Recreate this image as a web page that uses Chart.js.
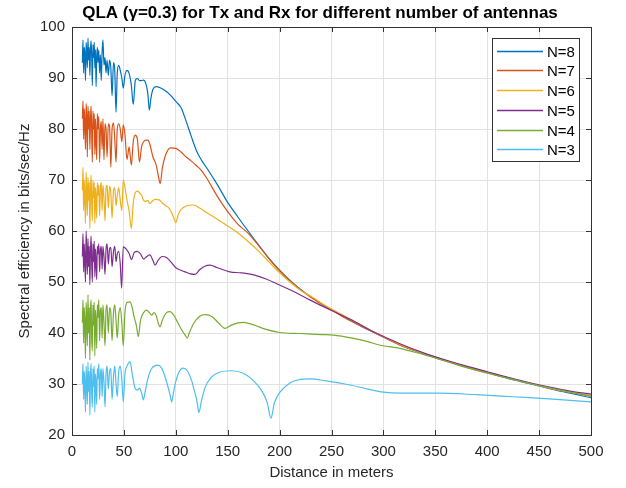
<!DOCTYPE html>
<html>
<head>
<meta charset="utf-8">
<script src="https://cdn.jsdelivr.net/npm/chart.js@4.4.0/dist/chart.umd.min.js"></script>
<style>
  html, body { margin: 0; padding: 0; background: #fff; }
  canvas { display: block; }
</style>
</head>
<body>
<canvas id="myChart" width="626" height="488"></canvas>
<script>
const ctx = document.getElementById("myChart");
const fontFamily = "'Liberation Sans', Arial, Helvetica, sans-serif";

const seriesNames = ["N=8", "N=7", "N=6", "N=5", "N=4", "N=3"];
const seriesColors = ["#0072BD", "#D95319", "#EDB120", "#7E2F8E", "#77AC30", "#4DBEEE"];

// distance (m) / spectral efficiency (bits/sec/Hz) per antenna count
const dist8 = [10,10.6,11.2,11.8,12.4,13,13.6,14.2,14.8,15.4,16,16.6,17.2,17.8,18.4,19,19.6,20.2,20.8,21.4,22,22.6,23.2,23.8,24.4,25,
  25.8,26.6,27.4,28.2,29,29.8,30.8,31.8,32.8,33.8,35,36.2,37.4,38.6,40,41.2,42.4,43.6,45,46.5,48,49.4,
  51,53,55,57.2,59,61,63,65,67,69,71,73,74.5,76,78,81,85,90,95,
  100,105,110,115,120,125,130,140,150,160,170,180,190,200,210,220,230,240,250,260,270,280,290,300,
  320,340,360,380,400,420,440,460,480,500];
const se8 = [93,97.5,91,96,94.5,89.5,97,95,92,97.8,93.5,96,90.5,95.5,97.3,94,88.5,96.5,94,97,92,95.5,88.3,94,96,93,
  95.5,91,94.5,89.5,95,97.5,92.5,94,91,93.5,90.5,93.5,92,86.5,93,91.5,83.3,91,92.5,91.5,90,88,
  90.5,91.5,90.9,88.5,84.8,89.5,89.9,89.5,89.5,89.6,89,87,83.7,86,87.8,88.3,88.1,87.5,86.6,
  85.4,84.2,81.5,78.5,75.7,73.8,72.3,69.1,65.6,62.7,59.9,57.2,54.6,52.3,50.3,48.6,47.1,45.8,44.6,43.4,42.3,41.2,40.2,39.2,
  37.3,35.8,34.5,33.3,32.2,31.1,30.1,29.1,28.2,27.3];

const dist7 = [10,10.6,11.2,11.8,12.4,13,13.6,14.2,14.8,15.4,16,16.6,17.2,17.8,18.4,19,19.6,20.2,20.8,21.4,22,22.6,23.2,23.8,24.4,25,
  25.8,26.6,27.4,28.2,29,29.8,30.8,31.8,32.8,33.8,35,36.2,37.4,38.6,40,41.2,42.4,43.6,45,46.5,48,49.4,
  51,53,55,57.2,59,61,63,65,67,69,71,73,75,78,81,83,85,87,90,95,
  100,105,110,115,120,125,130,140,150,160,170,180,190,200,210,220,230,240,250,260,270,280,290,300,
  320,340,360,380,400,420,440,460,480,500];
const se7 = [82,85.5,78,84,81,76,85,82.5,74.5,84.5,80,83.5,76,82,84.5,79,73.5,83.5,80,83,75,82,78,74,83,80,
  82.5,73.5,80,81.5,76,82,74,81,80,74.5,81,80.5,72.5,80,81.2,78,73.5,80,81,80,77.5,80.8,
  79,74,76.5,72.9,77.5,78.8,78,73.5,76.5,77.5,77.8,77.8,77,74.5,73,71,69.3,72.3,74.8,76.3,
  76.2,75.5,74.5,73.7,72.8,71.8,70.3,66.8,63.8,61.3,59.5,57.1,54.5,52.2,50.2,48.5,47.0,45.7,44.5,43.3,42.2,41.2,40.2,39.2,
  37.3,35.9,34.6,33.4,32.3,31.2,30.2,29.2,28.4,27.6];

const dist6 = [10,10.6,11.2,11.8,12.4,13,13.6,14.2,14.8,15.4,16,16.6,17.2,17.8,18.4,19,19.6,20.2,20.8,21.4,22,22.6,23.2,23.8,24.4,25,
  25.8,26.6,27.4,28.2,29,29.8,30.8,31.8,32.8,33.8,35,36.2,37.4,38.6,40,41.2,42.4,43.6,45,46.5,48,49.4,
  51,53,55,57.2,59,61,63,65,67,69,71,73,75,78,81,84,87,90,93,96,98,100,102,105,110,117,123,130,
  140,150,160,170,180,190,200,210,220,230,240,250,260,270,280,290,300,
  320,340,360,380,400,420,440,460,480,500];
const se6 = [68,72.5,64,70,66.5,61.5,71.5,68,63,70.5,66,69.5,60.5,68,71,65,62,70,66.5,69.5,61.5,68.5,66,62.5,69.5,67,
  69,63,68.5,69.5,64,69,66.5,62,68.5,69,64.5,68.8,67.5,62.5,68,68.5,65,67,68.5,66,64,70,
  68.5,66,64,60.5,65.5,67.5,67.8,67.5,67,66,65.8,66,65.4,66,66.2,66.1,65.5,65,64.6,63.6,62.6,61.6,63,64.2,64.9,65.1,64.5,63.6,
  62.3,61.0,59.6,57.9,56.0,53.9,51.8,50.0,48.4,47.2,45.9,44.7,43.6,42.5,41.4,40.3,39.3,
  37.4,35.9,34.6,33.4,32.3,31.2,30.2,29.2,28.4,27.8];

const dist5 = [10,10.6,11.2,11.8,12.4,13,13.6,14.2,14.8,15.4,16,16.6,17.2,17.8,18.4,19,19.6,20.2,20.8,21.4,22,22.6,23.2,23.8,24.4,25,
  25.8,26.6,27.4,28.2,29,29.8,30.8,31.8,32.8,33.8,35,36.2,37.4,38.6,40,41.2,42.4,43.6,45,46.5,47.8,49.4,
  52,55,57.4,60,63,66,69,72,75,78,80,83,87,91,95,100,105,110,114,118.5,123,128,133,140,152,163,175,187,200,215,229,250,268,290,316,
  340,360,380,400,420,440,460,480,500];
const se5 = [55,59.5,52,57.5,54,50,60,56,51.5,58.5,53,57,49.5,56,59,53.5,50,57.5,54,58,51,56.5,54,50.5,57,55.5,
  57.5,52,56.5,57,52.5,57,55,51.5,56.5,57.5,53.5,56.5,56.8,53,56,57,54,55.5,56,53.5,48.8,56.9,
  56.5,55.6,54.4,55.8,56,55.5,54.5,55,55.3,54.2,53.3,54.3,55,54.8,54,52.8,52.3,51.9,51.6,51.5,52.4,53.1,53.3,52.8,52,51.8,51.4,50.6,49.4,48,46.5,44.4,42.7,40.3,37.9,
  36.0,34.7,33.5,32.4,31.3,30.3,29.4,28.6,28.0];

const dist4 = [10,10.6,11.2,11.8,12.4,13,13.6,14.2,14.8,15.4,16,16.6,17.2,17.8,18.4,19,19.6,20.2,20.8,21.4,22,22.6,23.2,23.8,24.4,25,
  25.8,26.6,27.4,28.2,29,29.8,30.8,31.8,32.8,33.8,35,36.2,37.4,38.6,40,41.2,42.4,43.6,45,46.5,48,49.4,
  51,53,55.9,58,60,62,63.9,66,69,72,74.5,76.8,79,81,83,84.8,87,91,94.4,98,102,106,109,111,113,117,123,129,135,141,147.4,153,160,165,175,187,200,220,240,252,270,285,297,316,329,
  350,375,400,425,450,475,500];
const se4 = [42,46.5,38,45,41.5,35,46,43,37.5,47.5,40,45,34.7,44,46.5,39,36.5,45.5,41.5,46,35.5,44.5,42,37,45.5,43,
  46.5,38.5,44.5,45,39,45.5,42,37.5,44.5,45.5,40,45,44,38.5,44,45.5,42.5,39,43.5,45,42,37.5,
  44,46,46.1,45,43,41.5,39.3,42.5,44,44.5,44,43.5,44,43.5,42,41.2,42.5,44,44.2,43.5,42,40.5,39.6,39,40,41.8,43.3,43.6,43.2,42,40.9,41.5,42,42.1,41.6,40.7,40.1,39.9,39.7,39.6,39,38.3,37.6,37,36.3,
  35.1,33.5,32.1,30.9,29.7,28.6,27.6];

const dist3 = [10,10.6,11.2,11.8,12.4,13,13.6,14.2,14.8,15.4,16,16.6,17.2,17.8,18.4,19,19.6,20.2,20.8,21.4,22,22.6,23.2,23.8,24.4,25,
  25.8,26.6,27.4,28.2,29,29.8,30.8,31.8,32.8,33.8,35,36.2,37.4,38.6,40,41.2,42.4,43.6,45,46.5,48,49.4,
  51,53,55.9,58,60.7,63,65,67,68.7,70.5,73,76,80,83,86,89,92,94.5,96,97.5,100,103,107,111,115,118,120.5,122.3,124.5,128,134,142,153.8,165,175,183,188,191.7,195,200,210,220,229.3,245,268,285,300,316,351,390,425,460,500];
const se3 = [30,34,27,32.5,29.5,24.5,33.5,30.5,26,34.3,28.5,32.5,23.9,31.5,34,28,25.5,33,29.5,33.5,24.5,32,30,26,33,31,
  34,27,32,33,27.5,33,30.5,25.5,32,33.5,29,32.5,33,27,31.5,33.5,30,27.5,32.5,33.5,31,26.5,
  32,33.5,34.4,32,29.2,28.8,29.2,28.3,26.9,28.5,31,32.8,33.6,33.7,33.2,31.8,29.8,27.8,26.5,28,30.5,32.3,33.1,32.6,30.8,28.6,26.5,24.4,26.5,29.2,31.3,32.3,32.6,32.1,30.6,28.6,26.4,23.3,26.3,28.3,30.2,30.9,31,30.6,29.8,29,28.4,28.2,28.2,27.9,27.5,27.1,26.5];

const xTicks = { min: 0, max: 500, step: 50 };
const yTicks = { min: 20, max: 100, step: 10 };

const distances = [dist8, dist7, dist6, dist5, dist4, dist3];
const efficiencies = [se8, se7, se6, se5, se4, se3];

const datasets = seriesNames.map((name, i) => ({
  label: name,
  data: distances[i].map((d, j) => ({ x: d, y: efficiencies[i][j] })),
  borderColor: seriesColors[i],
  backgroundColor: seriesColors[i],
  borderWidth: 1.2,
  pointRadius: 0,
  cubicInterpolationMode: "monotone",
  order: seriesNames.length - i,
}));

const titlePlugin = {
  id: "plotTitle",
  afterDraw(chart) {
    const c = chart.ctx;
    c.save();
    c.fillStyle = "#000";
    c.font = "bold 17px " + fontFamily;
    c.textAlign = "center";
    c.textBaseline = "middle";
    c.fillText("QLA (γ=0.3) for Tx and Rx for different number of antennas", 320, 13);
    c.restore();
  },
};

// box around the axes plus inward tick marks on all four sides
const axesBox = {
  id: "axesBox",
  afterDatasetsDraw(chart) {
    const { ctx: c, chartArea: a, scales: { x, y } } = chart;
    c.save();
    c.strokeStyle = "#333";
    c.lineWidth = 1;
    c.beginPath();
    x.ticks.forEach((t) => {
      const px = Math.round(x.getPixelForValue(t.value)) + 0.5;
      c.moveTo(px, a.bottom); c.lineTo(px, a.bottom - 5);
      c.moveTo(px, a.top); c.lineTo(px, a.top + 5);
    });
    y.ticks.forEach((t) => {
      const py = Math.round(y.getPixelForValue(t.value)) + 0.5;
      c.moveTo(a.left, py); c.lineTo(a.left + 5, py);
      c.moveTo(a.right, py); c.lineTo(a.right - 5, py);
    });
    c.stroke();
    c.strokeRect(Math.round(a.left) + 0.5, Math.round(a.top) + 0.5, Math.round(a.right - a.left), Math.round(a.bottom - a.top));
    c.restore();
  },
};

const legendBox = {
  id: "legendBox",
  afterDraw(chart) {
    const { ctx: c, chartArea: a } = chart;
    const bx = a.right - 99, by = a.top + 11, bw = 87, bh = 123;
    c.save();
    c.fillStyle = "#fff";
    c.fillRect(bx, by, bw, bh);
    c.strokeStyle = "#333";
    c.lineWidth = 1;
    c.strokeRect(bx + 0.5, by + 0.5, bw, bh);
    c.font = "15px " + fontFamily;
    c.textBaseline = "middle";
    c.textAlign = "left";
    chart.data.datasets.forEach((ds, i) => {
      const ry = Math.round(by + 12.7 + i * 19.7) + 0.5;
      c.strokeStyle = ds.borderColor;
      c.lineWidth = 1.5;
      c.beginPath();
      c.moveTo(bx + 5, ry);
      c.lineTo(bx + 51, ry);
      c.stroke();
      c.fillStyle = "#000";
      c.fillText(ds.label, bx + 55, ry + 1);
    });
    c.restore();
  },
};

new Chart(ctx, {
  type: "line",
  data: { datasets },
  options: {
    responsive: false,
    animation: false,
    layout: { padding: { top: 27, right: 35, left: 0, bottom: 0 } },
    plugins: {
      legend: { display: false },
      tooltip: { enabled: false },
    },
    scales: {
      x: {
        type: "linear",
        min: xTicks.min,
        max: xTicks.max,
        ticks: {
          stepSize: xTicks.step,
          color: "#262626",
          font: { family: fontFamily, size: 15 },
          padding: 8,
          maxRotation: 0,
        },
        grid: { color: "#e2e2e2", drawTicks: false },
        border: { display: false },
        title: {
          display: true,
          text: "Distance in meters",
          color: "#262626",
          font: { family: fontFamily, size: 15 },
          padding: { top: 0, bottom: 6 },
        },
        afterFit: (scale) => { scale.height = 53; },
      },
      y: {
        min: yTicks.min,
        max: yTicks.max,
        ticks: {
          stepSize: yTicks.step,
          color: "#262626",
          font: { family: fontFamily, size: 15 },
          padding: 7,
        },
        grid: { color: "#e2e2e2", drawTicks: false },
        border: { display: false },
        title: {
          display: true,
          text: "Spectral efficiency in bits/sec/Hz",
          color: "#262626",
          font: { family: fontFamily, size: 15 },
          padding: { top: 16, bottom: 0 },
        },
        afterFit: (scale) => { scale.width = 72; },
      },
    },
  },
  plugins: [axesBox, legendBox, titlePlugin],
});
</script>
</body>
</html>
